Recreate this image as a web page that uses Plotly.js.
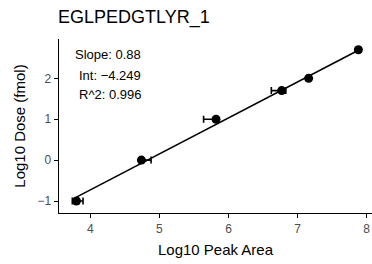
<!DOCTYPE html>
<html>
<head>
<meta charset="utf-8">
<script src="https://cdn.plot.ly/plotly-3.0.1.min.js"></script>
<style>html,body{margin:0;padding:0;background:#fff;}#chart{width:372px;height:264px;}</style>
</head>
<body>
<div id="chart"></div>
<script>
// Data
const titleText = "EGLPEDGTLYR_1";
const logPeakArea = [3.80, 4.74, 5.82, 6.77, 7.16, 7.88];
const logDose = [-1, 0, 1, 1.699, 2, 2.699];
const errPlus = [0.095, 0.14, 0.02, 0.06, 0.02, 0.02];
const errMinus = [0.06, 0.02, 0.18, 0.15, 0.02, 0.02];
const slope = 0.88;
const intercept = -4.249;
const rSquared = 0.996;
const xTicks = [4, 5, 6, 7, 8];
const yTicks = [-1, 0, 1, 2];
const statLines = ["Slope: " + slope, "Int: \u2212" + Math.abs(intercept).toFixed(3), "R^2: " + rSquared];

const fitX = [Math.min(...logPeakArea), Math.max(...logPeakArea)];
const fitY = fitX.map(v => slope * v + intercept);

const font = "Liberation Sans, Arial, Helvetica, sans-serif";

const traces = [
  {x: fitX, y: fitY, mode: 'lines', type: 'scatter', line: {color: '#000', width: 1.6}, hoverinfo: 'skip'},
  {x: logPeakArea, y: logDose, mode: 'markers', type: 'scatter',
   marker: {color: '#000', size: 9},
   error_x: {type: 'data', symmetric: false, array: errPlus, arrayminus: errMinus, color: '#000', thickness: 1.6, width: 3.5}}
];

const statY = [2.57, 2.06, 1.61];
const annotations = statLines.map((t, i) => ({
  text: t, x: 4.766, y: statY[i], xref: 'x', yref: 'y', xanchor: 'right', yanchor: 'middle',
  showarrow: false, font: {family: font, size: 13, color: '#000'}
}));

const layout = {
  width: 372, height: 264,
  margin: {l: 59, r: 0, t: 39, b: 51},
  paper_bgcolor: '#fff', plot_bgcolor: '#fff',
  showlegend: false,
  title: {text: titleText, font: {family: font, size: 18, color: '#000'},
          xref: 'container', yref: 'container', x: 58/372, xanchor: 'left', y: 1 - 17/264, yanchor: 'middle'},
  xaxis: {
    range: [3.5475, 8.077], tickvals: xTicks, ticktext: xTicks.map(String),
    showgrid: false, zeroline: false, showline: true, linecolor: '#000', linewidth: 1.3,
    ticks: 'outside', ticklen: 4, tickwidth: 1, tickcolor: '#000',
    tickfont: {family: font, size: 12, color: '#4d4d4d'},
    title: {text: 'Log10 Peak Area', font: {family: font, size: 15, color: '#000'}, standoff: 9}
  },
  yaxis: {
    range: [-1.293, 2.961], tickvals: yTicks, ticktext: yTicks.map(v => v < 0 ? '\u2212' + Math.abs(v) : String(v)),
    showgrid: false, zeroline: false, showline: true, linecolor: '#000', linewidth: 1.3,
    ticks: 'outside', ticklen: 4, tickwidth: 1, tickcolor: '#000',
    tickfont: {family: font, size: 12, color: '#4d4d4d'},
    title: {text: 'Log10 Dose (fmol)', font: {family: font, size: 15, color: '#000'}, standoff: 8}
  },
  annotations: annotations
};

Plotly.newPlot('chart', traces, layout, {displayModeBar: false, staticPlot: true});
</script>
</body>
</html>
